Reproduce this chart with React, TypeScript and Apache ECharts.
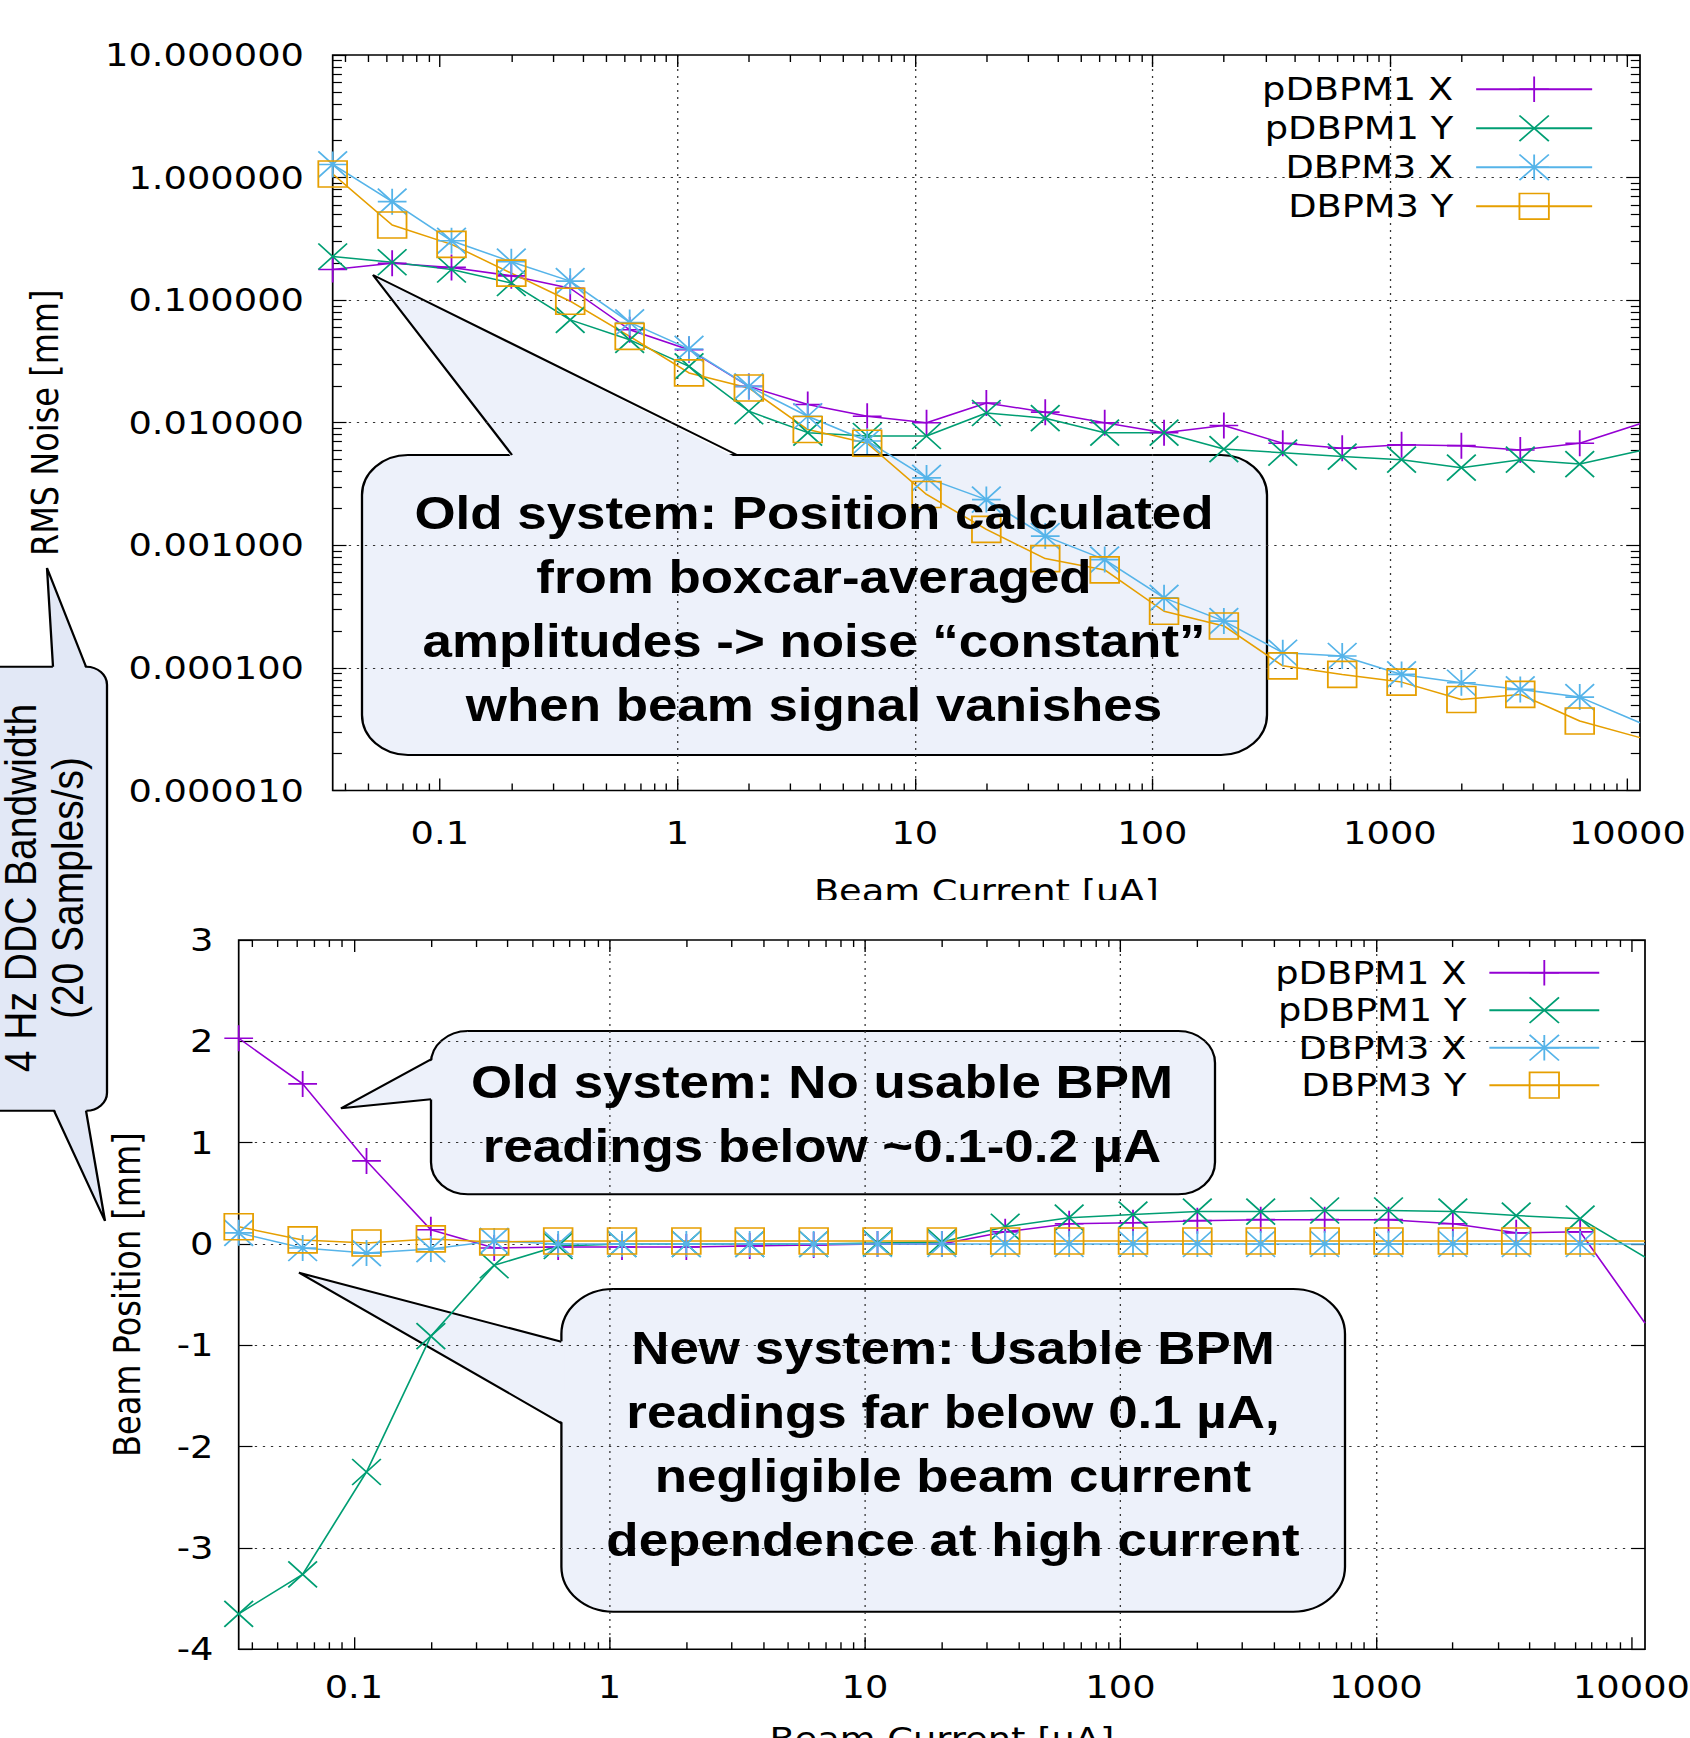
import React, { useEffect, useRef } from 'react';
import * as echarts from 'echarts';

// The reference picture is horizontally stretched; the chart is drawn narrower and scaled in x.
const PAGE_W = 1690;
const PAGE_H = 1738;
const CHART_W = 1470;
const SX = PAGE_W / CHART_W;
const cx = (v: number) => v / SX;

const SERIES_NAMES = ['pDBPM1 X', 'pDBPM1 Y', 'DBPM3 X', 'DBPM3 Y'];
const SERIES_COLORS = ['#9400D3', '#009E73', '#56B4E9', '#E69F00'];
const SERIES_SYMBOLS = [
  'path://M5,0L5,10M0,5L10,5',
  'path://M0,0L10,10M10,0L0,10',
  'path://M5,0L5,10M0,5L10,5M0,0L10,10M10,0L0,10',
  'path://M0,0L10,0L10,10L0,10Z',
];

// Beam current [uA]
const BEAM_CURRENT = [0.0354, 0.063, 0.112, 0.2, 0.354, 0.63, 1.12, 2, 3.54, 6.3, 11.2, 20, 35.4, 63, 112, 200, 354, 630, 1120, 2000, 3540, 6300, 11300];

// RMS noise [mm] (top chart)
const NOISE_PDBPM1_X = [0.178, 0.2, 0.185, 0.158, 0.125, 0.0574, 0.0394, 0.0198, 0.0141, 0.0113, 0.01, 0.0145, 0.0122, 0.01, 0.0083, 0.0095, 0.0068, 0.0062, 0.0066, 0.0065, 0.006, 0.0068, 0.0098];
const NOISE_PDBPM1_Y = [0.227, 0.204, 0.178, 0.138, 0.069, 0.0475, 0.0288, 0.0124, 0.0083, 0.0078, 0.0078, 0.012, 0.0109, 0.0083, 0.0083, 0.0061, 0.0057, 0.0053, 0.005, 0.0043, 0.005, 0.0046, 0.0059];
const NOISE_DBPM3_X = [1.28, 0.636, 0.305, 0.206, 0.143, 0.0658, 0.04, 0.0198, 0.0113, 0.0071, 0.00355, 0.00236, 0.00119, 0.000765, 0.000373, 0.000241, 0.000133, 0.000125, 0.0000885, 0.0000757, 0.0000668, 0.0000578, 0.0000357];
const NOISE_DBPM3_Y = [1.07, 0.41, 0.285, 0.166, 0.098, 0.0506, 0.0255, 0.0192, 0.0088, 0.0068, 0.0026, 0.00135, 0.00078, 0.00063, 0.00029, 0.00022, 0.000104, 0.0000885, 0.0000766, 0.0000553, 0.0000608, 0.0000369, 0.000027];

// Beam position [mm] (bottom chart)
const POS_PDBPM1_X = [2.03, 1.58, 0.82, 0.14, -0.04, -0.03, -0.03, -0.03, -0.02, -0.01, 0.0, 0.0, 0.12, 0.2, 0.21, 0.23, 0.24, 0.24, 0.24, 0.2, 0.11, 0.12, -0.78];
const POS_PDBPM1_Y = [-3.65, -3.26, -2.25, -0.91, -0.21, -0.02, 0.0, 0.0, 0.0, 0.0, 0.01, 0.02, 0.17, 0.26, 0.29, 0.32, 0.32, 0.33, 0.33, 0.32, 0.28, 0.25, -0.13];
const POS_DBPM3_X = [0.11, -0.04, -0.09, -0.05, 0.03, 0.0, 0.0, 0.0, 0.0, 0.0, 0.0, 0.0, 0.0, 0.0, 0.0, 0.0, 0.0, 0.0, 0.0, 0.0, 0.0, 0.0, 0.0];
const POS_DBPM3_Y = [0.17, 0.04, 0.01, 0.05, 0.02, 0.03, 0.03, 0.03, 0.03, 0.03, 0.03, 0.03, 0.03, 0.03, 0.03, 0.03, 0.03, 0.03, 0.03, 0.03, 0.03, 0.03, 0.03];

const NOISE_SERIES = [NOISE_PDBPM1_X, NOISE_PDBPM1_Y, NOISE_DBPM3_X, NOISE_DBPM3_Y];
const POS_SERIES = [POS_PDBPM1_X, POS_PDBPM1_Y, POS_DBPM3_X, POS_DBPM3_Y];

// Axes
const X_MIN = 0.0354;
const X_MAX = 11300;
const X_MAJOR_TICKS = [0.1, 1, 10, 100, 1000, 10000];
const X_MINOR_TICKS = [
  0.04, 0.05, 0.06, 0.07, 0.08, 0.09,
  0.2, 0.3, 0.4, 0.5, 0.6, 0.7, 0.8, 0.9,
  2, 3, 4, 5, 6, 7, 8, 9,
  20, 30, 40, 50, 60, 70, 80, 90,
  200, 300, 400, 500, 600, 700, 800, 900,
  2000, 3000, 4000, 5000, 6000, 7000, 8000, 9000,
];
const NOISE_MIN = 0.00001;
const NOISE_MAX = 10;
const NOISE_MAJOR_TICKS = [0.00001, 0.0001, 0.001, 0.01, 0.1, 1, 10];
const NOISE_MINOR_TICKS = [
  0.00002, 0.00003, 0.00004, 0.00005, 0.00006, 0.00007, 0.00008, 0.00009,
  0.0002, 0.0003, 0.0004, 0.0005, 0.0006, 0.0007, 0.0008, 0.0009,
  0.002, 0.003, 0.004, 0.005, 0.006, 0.007, 0.008, 0.009,
  0.02, 0.03, 0.04, 0.05, 0.06, 0.07, 0.08, 0.09,
  0.2, 0.3, 0.4, 0.5, 0.6, 0.7, 0.8, 0.9,
  2, 3, 4, 5, 6, 7, 8, 9,
];
const POS_MIN = -4;
const POS_MAX = 3;
const POS_INTERVAL = 1;

const FONT = '"DejaVu Sans", sans-serif';
const TICK_LINE = { color: '#000', width: 1.2 };
const GRID_LINE = { color: '#333', width: 1.1, type: [2, 5] };
const CALLOUT_FILL = '#EDF1FA';
const CALLOUT_FILL_LEFT = '#E2E8F6';

const fmtX = (v: number) => String(Number(v.toPrecision(6)));

function logXAxes(gridIndex: number, labelMargin: number, nameGap: number) {
  const base = {
    type: 'log', gridIndex, min: X_MIN, max: X_MAX, z: 1,
    axisLine: { show: false, onZero: false },
  };
  const major = { show: true, inside: true, length: 12, customValues: X_MAJOR_TICKS, lineStyle: TICK_LINE };
  const minor = { show: true, inside: true, length: 7, customValues: X_MINOR_TICKS, lineStyle: TICK_LINE };
  const hidden = { axisLabel: { show: false }, splitLine: { show: false } };
  return [
    {
      ...base, position: 'bottom', axisTick: major,
      axisLabel: { show: true, customValues: X_MAJOR_TICKS, formatter: fmtX, margin: labelMargin, color: '#000', fontSize: 32, fontFamily: FONT },
      splitLine: { show: true, showMinLine: false, showMaxLine: false, lineStyle: GRID_LINE },
      name: 'Beam Current [uA]', nameLocation: 'middle', nameGap, nameMoveOverlap: false,
      nameTextStyle: { color: '#000', fontSize: 32, fontFamily: FONT },
    },
    { ...base, position: 'bottom', axisTick: minor, ...hidden },
    { ...base, position: 'top', axisTick: major, ...hidden },
    { ...base, position: 'top', axisTick: minor, ...hidden },
  ];
}

function callout(box: number[], r: number, tip: number[], b1: number[], b2: number[], fill: string, inset: number[]) {
  const [x0, y0, x1, y1] = box;
  return [
    {
      type: 'rect', z: 0.1, silent: true,
      shape: { x: cx(x0), y: y0, width: cx(x1) - cx(x0), height: y1 - y0, r },
      style: { fill, stroke: '#000', lineWidth: 2 },
    },
    {
      type: 'polygon', z: 0.2, silent: true,
      shape: { points: [[cx(b1[0] + inset[0]), b1[1] + inset[1]], [cx(tip[0]), tip[1]], [cx(b2[0] + inset[0]), b2[1] + inset[1]]] },
      style: { fill, stroke: 'none' },
    },
    {
      type: 'polyline', z: 0.3, silent: true,
      shape: { points: [[cx(b1[0]), b1[1]], [cx(tip[0]), tip[1]], [cx(b2[0]), b2[1]]] },
      style: { fill: 'none', stroke: '#000', lineWidth: 2 },
    },
  ];
}

function calloutText(x: number, y: number, text: string, font: string, lineHeight: number, rotation = 0) {
  return {
    type: 'text', z: 10, silent: true, x: cx(x), y, rotation,
    style: {
      text, font, fill: '#000', lineHeight,
      align: 'center', verticalAlign: 'middle', textAlign: 'center', textVerticalAlign: 'middle',
    },
  };
}

function buildOption() {
  const lastIdx = BEAM_CURRENT.length - 1;
  const mkData = (ys: number[]) =>
    BEAM_CURRENT.map((x, k) => (k === lastIdx ? { value: [x, ys[k]], symbol: 'none' } : [x, ys[k]]));

  const series: any[] = [];
  NOISE_SERIES.forEach((ys, i) => {
    series.push({
      type: 'line', name: SERIES_NAMES[i], xAxisIndex: 0, yAxisIndex: 0, data: mkData(ys),
      symbol: SERIES_SYMBOLS[i], symbolSize: [25, 26], clip: false, silent: true, z: 2,
      lineStyle: { color: SERIES_COLORS[i], width: 1.5 },
      itemStyle: { color: 'transparent', borderColor: SERIES_COLORS[i], borderWidth: 1.6 },
    });
  });
  POS_SERIES.forEach((ys, i) => {
    series.push({
      type: 'line', name: SERIES_NAMES[i], xAxisIndex: 4, yAxisIndex: 4, data: mkData(ys),
      symbol: SERIES_SYMBOLS[i], symbolSize: [25, 26], clip: false, silent: true, z: 2,
      lineStyle: { color: SERIES_COLORS[i], width: 1.5 },
      itemStyle: { color: 'transparent', borderColor: SERIES_COLORS[i], borderWidth: 1.6 },
    });
  });

  const noiseBase = { type: 'log', gridIndex: 0, min: NOISE_MIN, max: NOISE_MAX, z: 1, axisLine: { show: false, onZero: false } };
  const noiseMajor = { show: true, inside: true, length: 12, customValues: NOISE_MAJOR_TICKS, lineStyle: TICK_LINE };
  const noiseMinor = { show: true, inside: true, length: 8, customValues: NOISE_MINOR_TICKS, lineStyle: TICK_LINE };
  const posBase = { type: 'value', gridIndex: 1, min: POS_MIN, max: POS_MAX, interval: POS_INTERVAL, z: 1, axisLine: { show: false, onZero: false } };
  const posTicks = { show: true, inside: true, length: 12, lineStyle: TICK_LINE };
  const hidden = { axisLabel: { show: false }, splitLine: { show: false } };

  const yAxis = [
    {
      ...noiseBase, position: 'left', axisTick: noiseMajor,
      axisLabel: { show: true, customValues: NOISE_MAJOR_TICKS, formatter: (v: number) => v.toFixed(6), margin: 25, color: '#000', fontSize: 32, fontFamily: FONT },
      splitLine: { show: true, showMinLine: false, showMaxLine: false, lineStyle: GRID_LINE },
      name: 'RMS Noise [mm]', nameLocation: 'middle', nameRotate: 90, nameGap: 234, nameMoveOverlap: false,
      nameTextStyle: { color: '#000', fontSize: 32, fontFamily: FONT },
    },
    { ...noiseBase, position: 'left', axisTick: noiseMinor, ...hidden },
    { ...noiseBase, position: 'right', axisTick: noiseMajor, ...hidden },
    { ...noiseBase, position: 'right', axisTick: noiseMinor, ...hidden },
    {
      ...posBase, position: 'left', axisTick: posTicks,
      axisLabel: { show: true, margin: 22, color: '#000', fontSize: 32, fontFamily: FONT },
      splitLine: { show: true, showMinLine: false, showMaxLine: false, lineStyle: GRID_LINE },
      name: 'Beam Position [mm]', nameLocation: 'middle', nameRotate: 90, nameGap: 81, nameMoveOverlap: false,
      nameTextStyle: { color: '#000', fontSize: 32, fontFamily: FONT },
    },
    { ...posBase, position: 'right', axisTick: posTicks, ...hidden },
  ];

  const xAxis = [...logXAxes(0, 26, 84), ...logXAxes(1, 22, 74)];

  const legendCommon = {
    data: SERIES_NAMES, orient: 'vertical', align: 'right', itemHeight: 32, padding: 0,
    selectedMode: false, itemStyle: { borderWidth: 1.6 },
  };

  const graphicElements: any[] = [
    // left callout (spans both charts)
    ...callout([-30, 666.7, 107, 1110.7], 18, [47, 568], [53, 666.7], [86, 666.7], CALLOUT_FILL_LEFT, [0, 3]),
    ...callout([-30, 666.7, 107, 1110.7], 18, [105, 1221], [54, 1110.7], [86, 1110.7], CALLOUT_FILL_LEFT, [0, -3]).slice(1),
    // top chart callout
    ...callout([362, 455, 1267, 755], 40, [373, 275], [512, 455], [737, 455], CALLOUT_FILL, [0, 3]),
    // bottom chart callouts
    ...callout([431, 1031, 1215, 1194.3], 32, [341, 1108.3], [431, 1059.3], [431, 1099.3], CALLOUT_FILL, [3, 0]),
    ...callout([561.4, 1289, 1345, 1611.7], 45, [299, 1272.7], [561.4, 1341.7], [561.4, 1423.3], CALLOUT_FILL, [3, 0]),
    // crop line of the upper picture (cuts the lower half of its x-axis title)
    { type: 'rect', z: 5, silent: true, shape: { x: cx(690), y: 900, width: cx(620), height: 37 }, style: { fill: '#fff' } },
    calloutText(814, 609.4, 'Old system: Position calculated\nfrom boxcar-averaged\namplitudes -> noise \u201cconstant\u201d\nwhen beam signal vanishes', 'bold 46px "Liberation Sans"', 64),
    calloutText(822, 1113.8, 'Old system: No usable BPM\nreadings below ~0.1-0.2 \u00b5A', 'bold 46px "Liberation Sans"', 64),
    calloutText(953, 1444, 'New system: Usable BPM\nreadings far below 0.1 \u00b5A,\nnegligible beam current\ndependence at high current', 'bold 46px "Liberation Sans"', 64),
    calloutText(20.5, 888, '4 Hz DDC Bandwidth', '39px "Liberation Sans"', 28, Math.PI / 2),
    calloutText(67.5, 888, '(20 Samples/s)', '39px "Liberation Sans"', 28, Math.PI / 2),
  ];

  return {
    animation: false,
    backgroundColor: '#fff',
    textStyle: { fontFamily: FONT },
    grid: [
      { left: cx(332.7), right: CHART_W - cx(1640), top: 55, height: 735.5, show: true, borderColor: '#000', borderWidth: 1.5, backgroundColor: 'transparent', containLabel: false, outerBoundsMode: 'none' },
      { left: cx(238.7), right: CHART_W - cx(1645), top: 940, height: 709.3, show: true, borderColor: '#000', borderWidth: 1.5, backgroundColor: 'transparent', containLabel: false, outerBoundsMode: 'none' },
    ],
    xAxis,
    yAxis,
    legend: [
      {
        ...legendCommon, right: CHART_W - cx(1593.3), top: 73.3, itemWidth: cx(1593.3) - cx(1477.3), itemGap: 7,
        textStyle: { fontSize: 32, color: '#000', fontFamily: FONT, padding: [0, 15, 0, 0] },
      },
      {
        ...legendCommon, right: CHART_W - cx(1600.4), top: 956.7, itemWidth: cx(1600.4) - cx(1490.5), itemGap: 5.5,
        textStyle: { fontSize: 32, color: '#000', fontFamily: FONT, padding: [0, 15, 0, 0] },
      },
    ],
    graphic: { elements: graphicElements },
    series,
  };
}

export default function App() {
  const ref = useRef<HTMLDivElement>(null);
  useEffect(() => {
    if (!ref.current) return;
    const chart = echarts.init(ref.current, null, { renderer: 'svg', width: CHART_W, height: PAGE_H });
    chart.setOption(buildOption() as any);
    return () => chart.dispose();
  }, []);
  return (
    <div
      ref={ref}
      style={{
        position: 'absolute', left: 0, top: 0, width: CHART_W, height: PAGE_H,
        transform: `scaleX(${SX})`, transformOrigin: '0 0', background: '#fff', overflow: 'hidden',
      }}
    />
  );
}
